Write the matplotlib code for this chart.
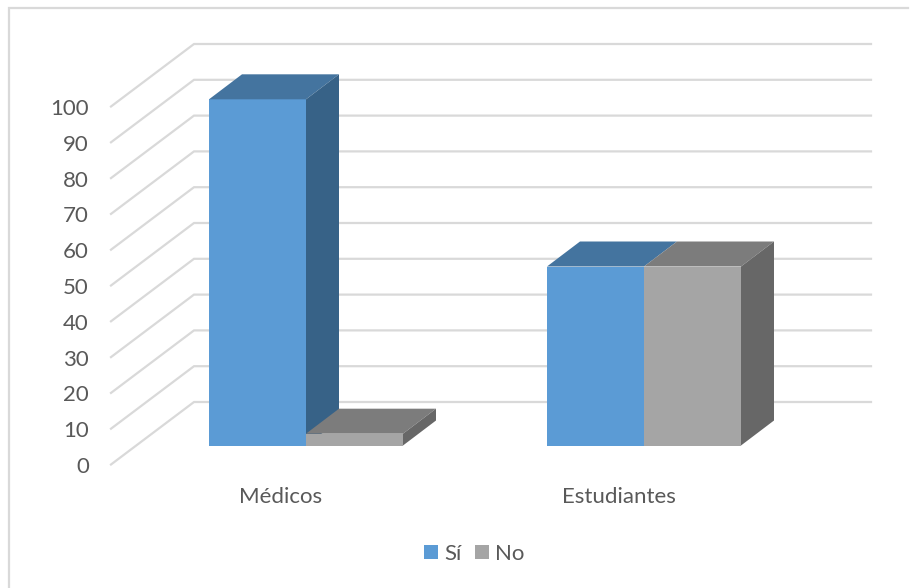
import matplotlib
matplotlib.use("Agg")
import matplotlib.pyplot as plt
from matplotlib.patches import Polygon, Patch

plt.rcParams['font.family'] = ['Lato', 'DejaVu Sans']

categories = ["Médicos", "Estudiantes"]
si = [96.7, 50]
no = [3.3, 50]
ticks = [0, 10, 20, 30, 40, 50, 60, 70, 80, 90, 100]

W, H = 917, 588
PX_X = 338.0    # pixels per category
PX_Y = 3.58     # pixels per value unit
X0 = 306.0      # pixel x of first category
Y0 = 445.5      # pixel y of value 0 in the bar plane

bar_w = 97 / PX_X
dx = 33 / PX_X
dy = 25 / PX_Y

fig = plt.figure(figsize=(W / 100, H / 100), dpi=100)
ax = fig.add_axes([0, 0, 1, 1])
ax.set_xlim(-X0 / PX_X, (W - X0) / PX_X)
ax.set_ylim((Y0 - H) / PX_Y, Y0 / PX_Y)
ax.axis('off')


def px(x):
    return (x - X0) / PX_X


def py(y):
    return (Y0 - y) / PX_Y


# only the top and left edges of the frame survive in the picture
ax.plot([px(9), px(9), px(908)], [py(588), py(8), py(8)],
        color='#D9D9D9', lw=1.6, zorder=1, solid_joinstyle='miter')

# gridlines: slanted floor part, then back wall
grid_front = -19 / PX_Y
grid_back = 43.5 / PX_Y
for t in ticks:
    ax.plot([px(111), px(194), px(871)],
            [t + grid_front, t + grid_back, t + grid_back],
            color='#D9D9D9', lw=1.6, zorder=2, solid_joinstyle='miter')
    ax.text(px(89), t + grid_front - 2.5 / PX_Y, str(t), ha='right', va='center',
            fontsize=16, color='#595959')


def bar3d(x, v, front, top, side, z, show_side=True):
    ax.add_patch(Polygon([(x, 0), (x + bar_w, 0), (x + bar_w, v), (x, v)],
                         fc=front, ec='none', zorder=z))
    ax.add_patch(Polygon([(x, v), (x + bar_w, v), (x + bar_w + dx, v + dy), (x + dx, v + dy)],
                         fc=top, ec='none', zorder=z))
    if show_side:
        ax.add_patch(Polygon([(x + bar_w, 0), (x + bar_w + dx, dy), (x + bar_w + dx, v + dy), (x + bar_w, v)],
                             fc=side, ec='none', zorder=z))


for i in range(len(categories)):
    # the blue side is hidden when the grey bar is as tall
    bar3d(i - bar_w, si[i], '#5B9BD5', '#44749F', '#376287', 4, si[i] > no[i])
    bar3d(i, no[i], '#A5A5A5', '#7C7C7C', '#676767', 5)
    ax.text(i - 25 / PX_X, py(497), categories[i], ha='center', va='center',
            fontsize=16, color='#595959')

handles = [Patch(fc='#5B9BD5', label='Sí'), Patch(fc='#A5A5A5', label='No')]
ax.legend(handles=handles, loc='center', bbox_to_anchor=(474 / W, 1 - 554 / H), ncol=2,
          frameon=False, fontsize=16, labelcolor='#595959', handlelength=0.63,
          handleheight=0.63, handletextpad=0.28, columnspacing=0.6)

fig.savefig("out.png", dpi=100)
